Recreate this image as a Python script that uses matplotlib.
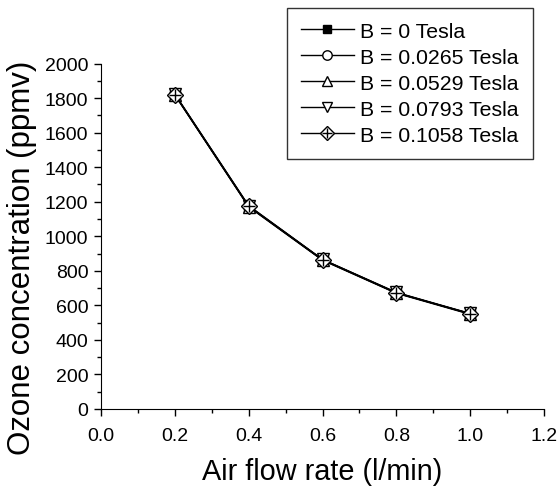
import matplotlib
matplotlib.use("Agg")
import matplotlib.pyplot as plt
from matplotlib.legend_handler import HandlerTuple
from matplotlib.ticker import MultipleLocator, FormatStrFormatter

plt.rcParams["font.family"] = ["Liberation Sans", "DejaVu Sans"]

flow = [0.2, 0.4, 0.6, 0.8, 1.0]
labels = ["B = 0 Tesla", "B = 0.0265 Tesla", "B = 0.0529 Tesla",
          "B = 0.0793 Tesla", "B = 0.1058 Tesla"]
b0 = [1820, 1172, 863, 672, 552]
b1 = [1822, 1175, 865, 674, 550]
b2 = [1818, 1170, 861, 670, 548]
b3 = [1824, 1177, 866, 675, 553]
b4 = [1820, 1173, 864, 672, 551]
series = [b0, b1, b2, b3, b4]
markers = ["s", "o", "^", "v", "D"]
fills = ["black", "white", "white", "white", "white"]
sizes = [7, 8, 8, 8, 8]

fig = plt.figure(figsize=(5.58, 4.89), dpi=100)
ax = fig.add_axes([101 / 558, 1 - 410 / 489, 443 / 558, 345.5 / 489])

handles = []
for vals, lab, mk, fc, ms in zip(series, labels, markers, fills, sizes):
    h, = ax.plot(flow, vals, "-", color="black", linewidth=1, marker=mk,
                 markerfacecolor=fc, markeredgecolor="black", markersize=ms,
                 markeredgewidth=1)
    if mk == "D":
        p, = ax.plot(flow, vals, linestyle="none", marker="+", color="black",
                     markersize=ms, markeredgewidth=1)
        handles.append((h, p))
    else:
        handles.append(h)

ax.set_xlim(0, 1.2)
ax.set_ylim(0, 2000)
ax.xaxis.set_major_locator(MultipleLocator(0.2))
ax.xaxis.set_minor_locator(MultipleLocator(0.1))
ax.yaxis.set_major_locator(MultipleLocator(200))
ax.yaxis.set_minor_locator(MultipleLocator(100))
ax.xaxis.set_major_formatter(FormatStrFormatter("%.1f"))
for side in ["top", "right"]:
    ax.spines[side].set_visible(False)
ax.tick_params(which="major", direction="out", length=5, width=1,
               labelsize=14, pad=4)
ax.tick_params(axis="x", which="major", pad=8)
ax.tick_params(which="minor", direction="out", length=3, width=1)

ax.set_xlabel("Air flow rate (l/min)", fontsize=20.8, labelpad=9)
ax.set_ylabel("Ozone concentration (ppmv)", fontsize=22.5)
ax.yaxis.set_label_coords(-0.145, 0.44)

leg = fig.legend(handles, labels, loc="upper left",
                 bbox_to_anchor=(287 / 558, 1 - 9 / 489), fontsize=15.3,
                 frameon=True, fancybox=False, edgecolor="black",
                 handlelength=2.5, handletextpad=0.3, labelspacing=0.33,
                 borderpad=0.65, borderaxespad=0, markerscale=0.85,
                 handler_map={tuple: HandlerTuple(ndivide=1)})
leg.get_frame().set_linewidth(1)

fig.savefig("out.png", dpi=100)
